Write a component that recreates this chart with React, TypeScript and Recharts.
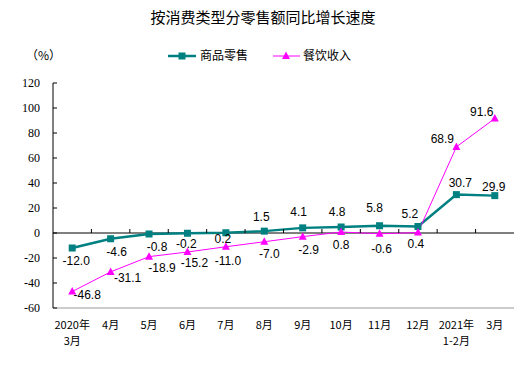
import React from 'react'
import { LineChart, Line, XAxis, YAxis, ReferenceLine, LabelList } from 'recharts'

const categories = ['2020年\n3月', '4月', '5月', '6月', '7月', '8月', '9月', '10月', '11月', '12月', '2021年\n1-2月', '3月']
const retailGoods = [-12.0, -4.6, -0.8, -0.2, 0.2, 1.5, 4.1, 4.8, 5.8, 5.2, 30.7, 29.9]
const catering = [-46.8, -31.1, -18.9, -15.2, -11.0, -7.0, -2.9, 0.8, -0.6, 0.4, 68.9, 91.6]
const yTicks = [-60, -40, -20, 0, 20, 40, 60, 80, 100, 120]
const Y_MIN = -60
const Y_MAX = 120

// label nudges (text centre relative to the point)
const goodsLabelOffset = [[4, 13], [6, 13], [8, 13], [-1, 11], [-3, 6], [-3, -14], [-4, -16], [-4, -15], [-5, -18], [-8, -13], [4, -12], [-1, -9]]
const cateringLabelOffset = [[15, 3], [17, 6], [13, 11], [7, 11], [2, 14], [5, 12], [6, 13], [0, 13], [2, 15], [-2, 11], [-14, -8], [-13, -7]]

const TEAL = '#008080'
const PINK = '#ff00ff'
const W = 532
const H = 367
const X_H = 59
const Y_W = 53
const M = { top: 83, right: 18, bottom: 0, left: 0 }
const PLOT_W = W - M.left - M.right - Y_W
const PLOT_H = H - M.top - M.bottom - X_H

const data = categories.map((c, i) => ({ name: c, goods: retailGoods[i], catering: catering[i] }))

const Square = (props: any) => {
  const { cx, cy } = props
  if (cx == null || cy == null) return null
  return <rect x={cx - 3.5} y={cy - 3.5} width={7} height={7} fill={TEAL} />
}

const Triangle = (props: any) => {
  const { cx, cy } = props
  if (cx == null || cy == null) return null
  return <path d={`M${cx},${cy - 4.5} L${cx + 4},${cy + 3} L${cx - 4},${cy + 3} Z`} fill={PINK} />
}

const makeLabel = (offsets: number[][]) => (props: any) => {
  const { x, y, value, index } = props
  const [dx, dy] = offsets[index] || [0, -10]
  return (
    <text x={x + dx} y={y + dy} textAnchor="middle" dominantBaseline="central"
      fontSize={12} fontFamily="'Liberation Sans', Arial, sans-serif" fill="#000">
      {Number(value).toFixed(1)}
    </text>
  )
}

const XTick = (props: any) => {
  const { x, y, payload, index } = props
  const lines = String(payload.value).split('\n')
  const bw = PLOT_W / categories.length
  const zeroY = y - PLOT_H * (0 - Y_MIN) / (Y_MAX - Y_MIN)
  return (
    <g>
      {index < categories.length - 1 && (
        <line x1={x + bw / 2} x2={x + bw / 2} y1={zeroY} y2={zeroY - 4} stroke="#000" />
      )}
      {lines.map((l, i) => (
        <text key={i} x={x} y={y + 21 + i * 16} textAnchor="middle" fontSize={11}
          fontFamily="'Noto Sans CJK SC', sans-serif" fill="#000">{l}</text>
      ))}
    </g>
  )
}

const YTick = (props: any) => {
  const { x, y, payload } = props
  return (
    <g>
      <line x1={x + 13} x2={x + 17} y1={y} y2={y} stroke="#000" />
      <text x={x} y={y} dy={4} textAnchor="end" fontSize={12}
        fontFamily="'Liberation Serif', 'Times New Roman', serif" fill="#000">{payload.value}</text>
    </g>
  )
}

export default function App() {
  return (
    <div style={{ position: 'absolute', left: 0, top: 0, width: W, height: H, background: '#fff' }}>
      <LineChart width={W} height={H} data={data} margin={M}>
        <XAxis dataKey="name" scale="band" axisLine={{ stroke: '#999' }} tickLine={false} tickSize={0} tickMargin={0}
          tick={<XTick />} interval={0} height={X_H} />
        <XAxis xAxisId="top" dataKey="name" scale="band" orientation="top" axisLine={{ stroke: '#999' }} tick={false} tickLine={false} height={0} />
        <YAxis domain={[Y_MIN, Y_MAX]} ticks={yTicks} width={Y_W} axisLine={{ stroke: '#000' }} tickLine={false}
          tickSize={0} tickMargin={13} tick={<YTick />} interval={0} />
        <YAxis yAxisId="right" orientation="right" domain={[Y_MIN, Y_MAX]} width={0} axisLine={{ stroke: '#999' }} tick={false} tickLine={false} />
        <ReferenceLine y={0} stroke="#000" />
        <Line dataKey="goods" stroke={TEAL} strokeWidth={2.5} dot={<Square />} activeDot={false} isAnimationActive={false}>
          <LabelList dataKey="goods" content={makeLabel(goodsLabelOffset)} />
        </Line>
        <Line dataKey="catering" stroke={PINK} strokeWidth={1} dot={<Triangle />} activeDot={false} isAnimationActive={false}>
          <LabelList dataKey="catering" content={makeLabel(cateringLabelOffset)} />
        </Line>
      </LineChart>
      <div style={{ position: 'absolute', left: 0, top: 9, width: 526, textAlign: 'center', fontSize: 15, lineHeight: '16px',
        fontFamily: "'Noto Sans CJK SC', sans-serif", color: '#000' }}>
        按消费类型分零售额同比增长速度
      </div>
      <svg style={{ position: 'absolute', left: 0, top: 46 }} width={W} height={20}>
        <text x={26} y={14} fontSize={12} fontFamily="'Noto Sans CJK SC', sans-serif" fill="#000">（%）</text>
        <line x1={168} x2={196} y1={10} y2={10} stroke={TEAL} strokeWidth={2.5} />
        <Square cx={182} cy={10} />
        <text x={200} y={14} fontSize={12} fontFamily="'Noto Sans CJK SC', sans-serif" fill="#000">商品零售</text>
        <line x1={273} x2={300} y1={10} y2={10} stroke={PINK} strokeWidth={1} />
        <Triangle cx={286} cy={10} />
        <text x={303} y={14} fontSize={12} fontFamily="'Noto Sans CJK SC', sans-serif" fill="#000">餐饮收入</text>
      </svg>
    </div>
  )
}
